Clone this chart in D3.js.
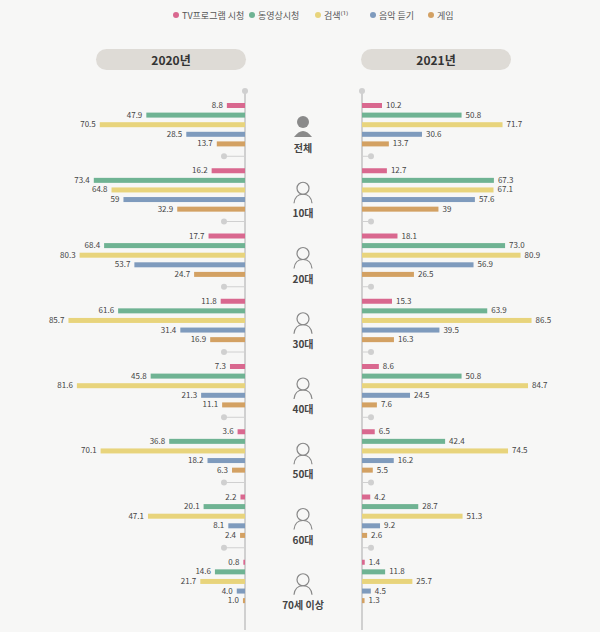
<!DOCTYPE html>
<html><head><meta charset="utf-8">
<script src="https://cdn.jsdelivr.net/npm/d3@7"></script>
<style>body{margin:0;background:#f7f7f6;font-family:"Noto Sans CJK KR","Noto Sans",sans-serif}</style>
</head><body><div id="chart"></div>
<script>
var groups = ["전체","10대","20대","30대","40대","50대","60대","70세 이상"];
var series = ["TV프로그램 시청","동영상시청","검색⁽¹⁾","음악 듣기","게임"];
var colors = ["#d9688f","#6fb393","#e8d47c","#7f9bbd","#d3a163"];
var v2020 = [
  [8.8,47.9,70.5,28.5,13.7],[16.2,73.4,64.8,59,32.9],[17.7,68.4,80.3,53.7,24.7],
  [11.8,61.6,85.7,31.4,16.9],[7.3,45.8,81.6,21.3,11.1],[3.6,36.8,70.1,18.2,6.3],
  [2.2,20.1,47.1,8.1,2.4],[0.8,14.6,21.7,4.0,1.0]];
var v2021 = [
  [10.2,50.8,71.7,30.6,13.7],[12.7,67.3,67.1,57.6,39],[18.1,73.0,80.9,56.9,26.5],
  [15.3,63.9,86.5,39.5,16.3],[8.6,50.8,84.7,24.5,7.6],[6.5,42.4,74.5,16.2,5.5],
  [4.2,28.7,51.3,9.2,2.6],[1.4,11.8,25.7,4.5,1.3]];
var lab2020 = [
  ["8.8","47.9","70.5","28.5","13.7"],["16.2","73.4","64.8","59","32.9"],["17.7","68.4","80.3","53.7","24.7"],
  ["11.8","61.6","85.7","31.4","16.9"],["7.3","45.8","81.6","21.3","11.1"],["3.6","36.8","70.1","18.2","6.3"],
  ["2.2","20.1","47.1","8.1","2.4"],["0.8","14.6","21.7","4.0","1.0"]];
var lab2021 = [
  ["10.2","50.8","71.7","30.6","13.7"],["12.7","67.3","67.1","57.6","39"],["18.1","73.0","80.9","56.9","26.5"],
  ["15.3","63.9","86.5","39.5","16.3"],["8.6","50.8","84.7","24.5","7.6"],["6.5","42.4","74.5","16.2","5.5"],
  ["4.2","28.7","51.3","9.2","2.6"],["1.4","11.8","25.7","4.5","1.3"]];

var svg = d3.select("#chart").append("svg").attr("width",600).attr("height",632);
var axL = 245, axR = 362;
var xL = d3.scaleLinear().domain([0,100]).range([axL, axL-206]);
var xR = d3.scaleLinear().domain([0,100]).range([axR, axR+196]);
var gy = d3.scaleBand().domain(groups).range([95,617]);
var by = d3.scaleBand().domain(d3.range(5)).range([0,48]);

// legend
var lx = [176,252,318,373,431];
var leg = svg.append("g");
series.forEach(function(s,i){
  leg.append("circle").attr("cx",lx[i]).attr("cy",15).attr("r",3).attr("fill",colors[i]);
  leg.append("text").attr("x",lx[i]+6).attr("y",19).attr("font-size",9).attr("fill","#555").text(s);
});
// year pills
[[96,"2020년"],[361,"2021년"]].forEach(function(d){
  svg.append("rect").attr("x",d[0]).attr("y",49).attr("width",150).attr("height",21).attr("rx",10.5).attr("fill","#dedbd6");
  svg.append("text").attr("x",d[0]+75).attr("y",64.5).attr("text-anchor","middle").attr("font-size",12).attr("font-weight","bold").attr("fill","#333").text(d[1]);
});
// axes
[axL,axR].forEach(function(x){
  svg.append("line").attr("x1",x).attr("x2",x).attr("y1",92).attr("y2",630).attr("stroke","#d0d0d0").attr("stroke-width",2);
});
groups.forEach(function(g,i){
  var y0 = gy(g) - 4;
  var dx = i==0 ? 0 : 1;
  svg.append("line").attr("x1",axL).attr("x2",axL-21*dx).attr("y1",y0).attr("y2",y0).attr("stroke","#d0d0d0");
  svg.append("line").attr("x1",axR).attr("x2",axR+9*dx).attr("y1",y0).attr("y2",y0).attr("stroke","#d0d0d0");
  svg.append("circle").attr("cx",axL-21*dx).attr("cy",y0).attr("r",3).attr("fill","#d0d0d0");
  svg.append("circle").attr("cx",axR+9*dx).attr("cy",y0).attr("r",3).attr("fill","#d0d0d0");

  var gg = svg.append("g").attr("transform","translate(0,"+(gy(g)+8)+")");
  v2020[i].forEach(function(v,j){
    gg.append("rect").attr("x",xL(v)).attr("y",by(j)).attr("width",axL-xL(v)).attr("height",5).attr("fill",colors[j]);
    gg.append("text").attr("x",xL(v)-4).attr("y",by(j)+5).attr("text-anchor","end").attr("font-size",8).attr("fill","#444").text(lab2020[i][j]);
  });
  v2021[i].forEach(function(v,j){
    gg.append("rect").attr("x",axR).attr("y",by(j)).attr("width",xR(v)-axR).attr("height",5).attr("fill",colors[j]);
    gg.append("text").attr("x",xR(v)+4).attr("y",by(j)+5).attr("font-size",8).attr("fill","#444").text(lab2021[i][j]);
  });
  // icon + label
  var cx = 303, cy = gy(g)+32;
  var ic = svg.append("g");
  if (i==0) {
    ic.append("circle").attr("cx",cx).attr("cy",cy-5).attr("r",6).attr("fill","#8a8a8a");
    ic.append("path").attr("d","M"+(cx-9)+","+(cy+10)+" Q"+cx+","+(cy-2)+" "+(cx+9)+","+(cy+10)+"Z").attr("fill","#8a8a8a");
  } else {
    ic.append("circle").attr("cx",cx).attr("cy",cy-4).attr("r",6).attr("fill","none").attr("stroke","#888").attr("stroke-width",1.2);
    ic.append("path").attr("d","M"+(cx-9)+","+(cy+11)+" Q"+(cx-8)+","+(cy+2)+" "+cx+","+(cy+2)+" Q"+(cx+8)+","+(cy+2)+" "+(cx+9)+","+(cy+11)).attr("fill","none").attr("stroke","#888").attr("stroke-width",1.2);
  }
  svg.append("text").attr("x",cx).attr("y",cy+25).attr("text-anchor","middle").attr("font-size",10).attr("font-weight","bold").attr("fill","#444").text(g);
});
</script></body></html>
